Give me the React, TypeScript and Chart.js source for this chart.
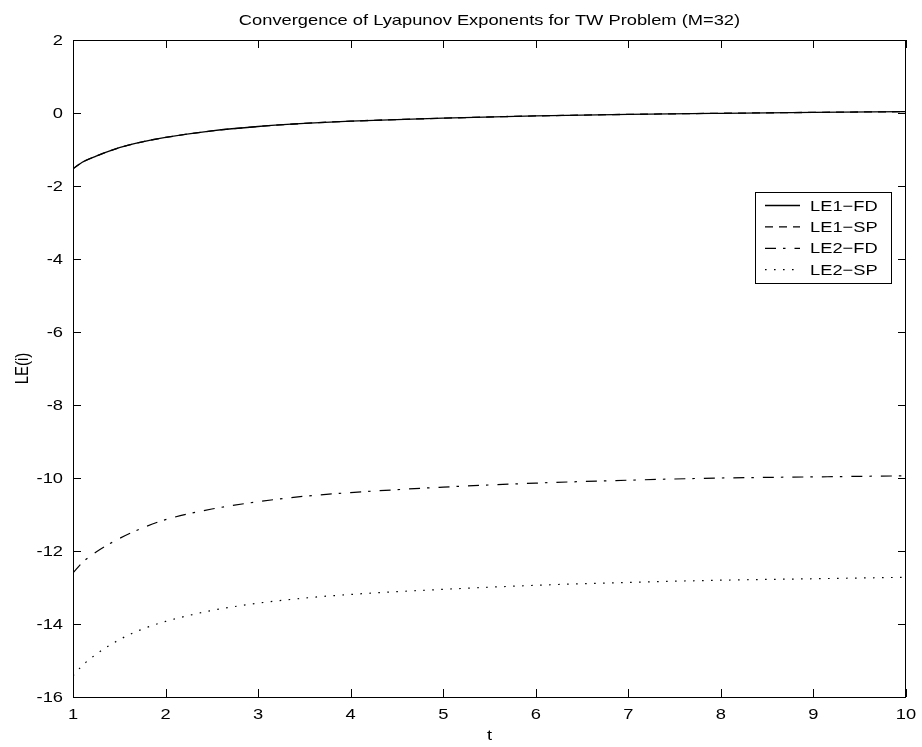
import React, { useEffect, useRef } from "react";
import { Chart, registerables } from "chart.js";

Chart.register(...registerables);

// Sample times and exponent estimates
const tValues = [1, 1.1, 1.25, 1.5, 1.75, 2, 2.5, 3, 3.5, 4, 5, 6, 7, 8, 9, 10];
const le1Fd = [-1.53, -1.35, -1.18, -0.95, -0.79, -0.67, -0.49, -0.37, -0.285, -0.224, -0.142, -0.08, -0.038, -0.008, 0.017, 0.037];
const le1Sp = [-1.53, -1.35, -1.18, -0.95, -0.79, -0.67, -0.49, -0.37, -0.285, -0.224, -0.142, -0.08, -0.038, -0.008, 0.017, 0.037];
const le2Fd = [-12.6, -12.32, -12.03, -11.66, -11.37, -11.14, -10.85, -10.65, -10.5, -10.4, -10.25, -10.14, -10.06, -10.0, -9.97, -9.94];
const le2Sp = [-15.42, -15.14, -14.83, -14.43, -14.14, -13.93, -13.63, -13.43, -13.29, -13.19, -13.05, -12.94, -12.86, -12.8, -12.76, -12.72];

const seriesLabels = ["LE1\u2212FD", "LE1\u2212SP", "LE2\u2212FD", "LE2\u2212SP"];
const seriesDashes: number[][] = [[], [8, 6], [11, 7, 2.5, 9], [1.6, 7.4]];
const seriesWidths = [1.3, 1.3, 1.2, 1.2];

const xTickValues = [1, 2, 3, 4, 5, 6, 7, 8, 9, 10];
const xTickLabels = ["1", "2", "3", "4", "5", "6", "7", "8", "9", "10"];
const yTickValues = [2, 0, -2, -4, -6, -8, -10, -12, -14, -16];
const yTickLabels = ["2", "0", "-2", "-4", "-6", "-8", "-10", "-12", "-14", "-16"];

const titleText = "Convergence of Lyapunov Exponents for TW Problem (M=32)";
const xTitle = "t";
const yTitle = "LE(i)";

const FONT = '15px "Liberation Sans", Arial, Helvetica, sans-serif';
const SX = 1.22; // horizontal widening of the Helvetica-like lettering
const TICK_LEN = 8;

function drawText(
  ctx: CanvasRenderingContext2D,
  text: string,
  x: number,
  y: number,
  align: CanvasTextAlign,
  baseline: CanvasTextBaseline,
  rotate = 0
) {
  ctx.save();
  ctx.translate(x, y);
  ctx.scale(SX, 1);
  if (rotate) ctx.rotate(rotate);
  ctx.font = FONT;
  ctx.fillStyle = "#000";
  ctx.textAlign = align;
  ctx.textBaseline = baseline;
  ctx.fillText(text, 0, 0);
  ctx.restore();
}

// Axes box with inward ticks on all four sides, labels, title and legend
const matlabFrame = {
  id: "matlabFrame",
  afterDraw(chart: any) {
    const { ctx, chartArea } = chart;
    const { left, right, top, bottom } = chartArea;
    const xs = chart.scales.x;
    const ys = chart.scales.y;
    ctx.save();
    ctx.globalAlpha = 1;
    ctx.strokeStyle = "#000";
    ctx.lineWidth = 1;
    ctx.setLineDash([]);
    ctx.strokeRect(left + 0.5, top + 0.5, right - left - 1, bottom - top);

    ctx.beginPath();
    xTickValues.forEach((v) => {
      const px = Math.round(xs.getPixelForValue(v)) + 0.5;
      ctx.moveTo(px, bottom);
      ctx.lineTo(px, bottom - TICK_LEN);
      ctx.moveTo(px, top);
      ctx.lineTo(px, top + TICK_LEN);
    });
    yTickValues.forEach((v) => {
      const py = Math.round(ys.getPixelForValue(v)) + 0.5;
      ctx.moveTo(left, py);
      ctx.lineTo(left + TICK_LEN, py);
      ctx.moveTo(right, py);
      ctx.lineTo(right - TICK_LEN, py);
    });
    ctx.stroke();

    xTickValues.forEach((v, i) => {
      const px = xs.getPixelForValue(v);
      drawText(ctx, xTickLabels[i], px, bottom + 22, "center", "alphabetic");
    });
    yTickValues.forEach((v, i) => {
      const py = ys.getPixelForValue(v);
      drawText(ctx, yTickLabels[i], left - 10, py + 5.3, "right", "alphabetic");
    });

    const cx = (left + right) / 2;
    drawText(ctx, titleText, cx, top - 15, "center", "alphabetic");
    drawText(ctx, xTitle, cx, bottom + 43, "center", "alphabetic");
    drawText(ctx, yTitle, 28, (top + bottom) / 2, "center", "alphabetic", -Math.PI / 2);

    // Legend
    const lx = 755, ly = 192, lw = 137, lh = 92;
    ctx.fillStyle = "#fff";
    ctx.fillRect(lx, ly, lw, lh);
    ctx.strokeStyle = "#000";
    ctx.lineWidth = 1;
    ctx.strokeRect(lx + 0.5, ly + 0.5, lw - 1, lh - 1);
    chart.data.datasets.forEach((ds: any, i: number) => {
      const y = ly + 13 + i * 21.4;
      ctx.save();
      ctx.strokeStyle = ds.borderColor;
      ctx.lineWidth = ds.borderWidth;
      ctx.setLineDash(ds.borderDash || []);
      ctx.beginPath();
      ctx.moveTo(lx + 10, y + 0.5);
      ctx.lineTo(lx + 45, y + 0.5);
      ctx.stroke();
      ctx.restore();
      drawText(ctx, ds.label, lx + 55, y + 5.5, "left", "alphabetic");
    });
    ctx.restore();
  },
};

export default function App() {
  const canvasRef = useRef<HTMLCanvasElement | null>(null);

  useEffect(() => {
    const canvas = canvasRef.current;
    if (!canvas) return;
    const seriesValues = [le1Fd, le1Sp, le2Fd, le2Sp];
    const chart = new Chart(canvas, {
      type: "line",
      data: {
        datasets: seriesValues.map((vals, i) => ({
          label: seriesLabels[i],
          data: tValues.map((t, j) => ({ x: t, y: vals[j] })),
          borderColor: "#000",
          backgroundColor: "#000",
          borderWidth: seriesWidths[i],
          borderDash: seriesDashes[i],
          pointRadius: 0,
          fill: false,
          cubicInterpolationMode: "monotone" as const,
        })),
      },
      options: {
        animation: false,
        responsive: true,
        maintainAspectRatio: false,
        devicePixelRatio: 1,
        events: [],
        layout: { padding: { left: 73, top: 40, right: 16, bottom: 50 } },
        plugins: {
          legend: { display: false },
          title: { display: false },
          tooltip: { enabled: false },
        },
        scales: {
          x: {
            type: "linear",
            display: false,
            min: 1,
            max: 10,
            afterBuildTicks: (scale: any) => {
              scale.ticks = xTickValues.map((v) => ({ value: v }));
            },
          },
          y: {
            type: "linear",
            display: false,
            min: -16,
            max: 2,
            afterBuildTicks: (scale: any) => {
              scale.ticks = yTickValues.map((v) => ({ value: v }));
            },
          },
        },
      },
      plugins: [matlabFrame],
    });
    return () => chart.destroy();
  }, []);

  return (
    <div style={{ position: "absolute", left: 0, top: 0, width: 922, height: 747, background: "#fff" }}>
      <canvas ref={canvasRef} />
    </div>
  );
}
